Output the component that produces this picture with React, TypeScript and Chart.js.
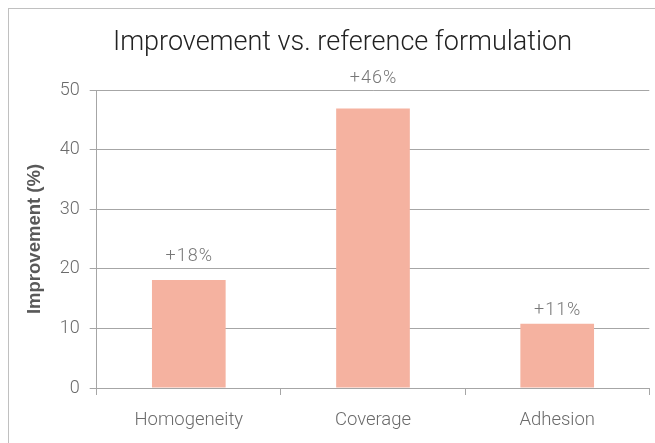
import React, { useEffect, useRef } from "react";
import { Chart, registerables } from "chart.js";

Chart.register(...registerables);

const categories = ["Homogeneity", "Coverage", "Adhesion"];
const improvement = [18.1, 46.9, 10.8];
const valueLabels = ["+18%", "+46%", "+11%"];
const labelLevels = [22, 52, 13];
const yMin = 0;
const yMax = 50;
const yStep = 10;

const titleText = "Improvement vs. reference formulation";
const yAxisTitle = "Improvement (%)";

const W = 667;
const H = 460;
const FONT = "Roboto";

const valueLabelPlugin = {
  id: "valueLabels",
  afterDatasetsDraw(chart: any) {
    const { ctx } = chart;
    const meta = chart.getDatasetMeta(0);
    const y = chart.scales.y;
    ctx.save();
    ctx.font = `300 18px ${FONT}`;
    ctx.fillStyle = "#777777";
    ctx.textAlign = "center";
    ctx.textBaseline = "middle";
    try {
      (ctx as any).letterSpacing = "1px";
    } catch (e) {}
    meta.data.forEach((bar: any, i: number) => {
      ctx.fillText(valueLabels[i], bar.x + 0.5, y.getPixelForValue(labelLevels[i]));
    });
    ctx.restore();
  },
};

export default function App() {
  const ref = useRef<HTMLCanvasElement | null>(null);
  useEffect(() => {
    if (!ref.current) return;
    const grid = "#a6a6a6";
    const chart = new Chart(ref.current, {
      type: "bar",
      data: {
        labels: categories,
        datasets: [
          {
            data: improvement,
            backgroundColor: "#f5b2a0",
            borderWidth: 0,
            categoryPercentage: 1,
            barPercentage: 0.4,
          },
        ],
      },
      plugins: [valueLabelPlugin],
      options: {
        animation: false,
        responsive: false,
        devicePixelRatio: 1,
        layout: { padding: 0 },
        plugins: {
          legend: { display: false },
          tooltip: { enabled: false },
          title: {
            display: true,
            text: titleText,
            color: "#222222",
            font: { family: FONT, size: 27, weight: "300", lineHeight: 1.2 },
            padding: { top: 18, bottom: 30.6 },
          },
        },
        scales: {
          x: {
            grid: {
              offset: true,
              drawOnChartArea: false,
              drawTicks: true,
              tickLength: 7,
              color: grid,
              lineWidth: 1,
            },
            border: { display: true, color: grid, width: 1 },
            ticks: {
              color: "#6b6b6b",
              font: { family: FONT, size: 18.5, weight: "300" },
              padding: 14,
            },
            afterFit(s: any) {
              s.height = H - 379;
            },
          },
          y: {
            min: yMin,
            max: yMax,
            ticks: {
              stepSize: yStep,
              color: "#6b6b6b",
              font: { family: FONT, size: 18, weight: "300" },
              padding: 10,
            },
            grid: { color: grid, lineWidth: 1, tickLength: 7, drawTicks: true },
            border: { display: true, color: grid, width: 1 },
            title: {
              display: true,
              text: yAxisTitle,
              color: "#595959",
              font: { family: "Liberation Sans", size: 18.5, weight: "bold", lineHeight: 1.2 },
              padding: { top: 15, bottom: 0 },
            },
            afterFit(s: any) {
              s.width = 87.7;
            },
          },
          r: {
            type: "linear",
            position: "right",
            display: true,
            grid: { display: false, drawTicks: false },
            border: { display: false },
            ticks: { display: false },
            afterFit(s: any) {
              s.width = W - 640.3;
            },
          },
        },
      } as any,
    });
    return () => chart.destroy();
  }, []);

  return (
    <div style={{ position: "fixed", inset: 0, overflow: "hidden", background: "#ffffff" }}>
      <div
        style={{
          position: "absolute",
          left: 8,
          top: 8,
          width: W,
          height: H,
          border: "1px solid #c0c0c0",
        }}
      >
        <canvas ref={ref} width={W} height={H} style={{ display: "block", width: W, height: H }} />
      </div>
    </div>
  );
}
